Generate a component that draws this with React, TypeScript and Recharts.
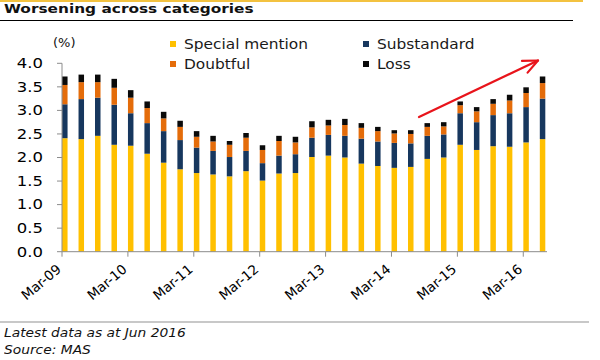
import { BarChart, Bar, XAxis, YAxis } from 'recharts';

const QUARTERS = [
  'Mar-09', 'Jun-09', 'Sep-09', 'Dec-09',
  'Mar-10', 'Jun-10', 'Sep-10', 'Dec-10',
  'Mar-11', 'Jun-11', 'Sep-11', 'Dec-11',
  'Mar-12', 'Jun-12', 'Sep-12', 'Dec-12',
  'Mar-13', 'Jun-13', 'Sep-13', 'Dec-13',
  'Mar-14', 'Jun-14', 'Sep-14', 'Dec-14',
  'Mar-15', 'Jun-15', 'Sep-15', 'Dec-15',
  'Mar-16', 'Jun-16',
];

const SPECIAL_MENTION = [2.41, 2.39, 2.46, 2.27, 2.25, 2.08, 1.89, 1.75, 1.67, 1.64, 1.6, 1.71, 1.51, 1.66, 1.67, 2.01, 2.04, 2.0, 1.87, 1.82, 1.78, 1.8, 1.97, 2.0, 2.27, 2.16, 2.24, 2.23, 2.32, 2.39];
const SUBSTANDARD = [0.72, 0.85, 0.81, 0.85, 0.69, 0.65, 0.67, 0.62, 0.54, 0.5, 0.41, 0.43, 0.37, 0.38, 0.4, 0.41, 0.44, 0.46, 0.53, 0.52, 0.53, 0.5, 0.49, 0.49, 0.67, 0.59, 0.66, 0.71, 0.75, 0.86];
const DOUBTFUL = [0.41, 0.36, 0.33, 0.36, 0.33, 0.32, 0.27, 0.28, 0.23, 0.2, 0.26, 0.28, 0.28, 0.31, 0.25, 0.22, 0.2, 0.23, 0.23, 0.22, 0.2, 0.2, 0.19, 0.17, 0.17, 0.23, 0.24, 0.27, 0.3, 0.33];
const LOSS = [0.18, 0.16, 0.16, 0.19, 0.16, 0.14, 0.14, 0.13, 0.12, 0.12, 0.08, 0.1, 0.1, 0.11, 0.12, 0.13, 0.12, 0.13, 0.1, 0.09, 0.07, 0.08, 0.08, 0.09, 0.08, 0.09, 0.1, 0.12, 0.12, 0.14];

const Y_TICKS = [0, 0.5, 1, 1.5, 2, 2.5, 3, 3.5, 4];

// date-style axis: year ticks sit a little before the March bar
const TICK_OFFSET = 0.2;
const X_TICKS = QUARTERS.map((_, i) => i).filter((i) => i % 4 === 0).map((i) => i - TICK_OFFSET);

const COLORS = {
  special: '#FFC000',
  sub: '#17375E',
  doubtful: '#E46C0A',
  loss: '#0A0A0A',
};

const FONT = '"DejaVu Sans", Verdana, sans-serif';
const AXIS_GREY = '#8C8C8C';

const chartData = QUARTERS.map((q, i) => ({
  idx: i,
  quarter: q,
  special: SPECIAL_MENTION[i],
  sub: SUBSTANDARD[i],
  doubtful: DOUBTFUL[i],
  loss: LOSS[i],
}));

const YTick = ({ x, y, payload }: any) => (
  <text
    x={x}
    y={y}
    dy="0.36em"
    textAnchor="end"
    fontSize={13.5}
    fontFamily={FONT}
    fill="#000"
    transform={`translate(${x} ${y}) scale(1.22 1) translate(${-x} ${-y})`}
  >
    {Number(payload.value).toFixed(1)}
  </text>
);

const XTick = ({ x, y, payload }: any) => {
  const label = QUARTERS[Math.round(payload.value + TICK_OFFSET)];
  return (
    <g transform={`translate(${x} ${y + 12})`}>
      <text textAnchor="end" fontSize={13.5} fontFamily={FONT} fill="#000" transform="rotate(-40)">
        {label}
      </text>
    </g>
  );
};

const legendItems = [
  { name: 'Special mention', color: COLORS.special, left: 170, top: 41 },
  { name: 'Substandard', color: COLORS.sub, left: 363, top: 41 },
  { name: 'Doubtful', color: COLORS.doubtful, left: 170, top: 61 },
  { name: 'Loss', color: COLORS.loss, left: 363, top: 61 },
];

const Arrow = () => {
  const x1 = 419;
  const y1 = 117;
  const x2 = 538;
  const y2 = 60.5;
  const ang = Math.atan2(y1 - y2, x1 - x2);
  const len = 16;
  const spread = (24 * Math.PI) / 180;
  const a1 = [x2 + len * Math.cos(ang + spread), y2 + len * Math.sin(ang + spread)];
  const a2 = [x2 + len * Math.cos(ang - spread), y2 + len * Math.sin(ang - spread)];
  return (
    <svg width={600} height={360} style={{ position: 'absolute', left: 0, top: 0, pointerEvents: 'none' }}>
      <line x1={x1} y1={y1} x2={x2} y2={y2} stroke="#E8141B" strokeWidth={2.2} strokeLinecap="round" />
      <polyline
        points={`${a1[0]},${a1[1]} ${x2},${y2} ${a2[0]},${a2[1]}`}
        fill="none"
        stroke="#E8141B"
        strokeWidth={2.2}
        strokeLinecap="round"
        strokeLinejoin="round"
      />
    </svg>
  );
};

const stretch = (sx: number) => ({ transform: `scaleX(${sx})`, transformOrigin: 'left center' });

export default function App() {
  return (
    <div
      style={{
        position: 'fixed',
        left: 0,
        top: 0,
        width: 600,
        height: 360,
        background: '#fff',
        fontFamily: FONT,
        color: '#111',
        overflow: 'hidden',
      }}
    >
      <div style={{ position: 'absolute', left: 0, top: 0, width: 583, height: 2, background: '#F3C240' }} />
      <div
        style={{
          position: 'absolute',
          left: 4,
          top: 1,
          fontSize: 13,
          lineHeight: '15px',
          fontWeight: 'bold',
          whiteSpace: 'nowrap',
          ...stretch(1.18),
        }}
      >
        Worsening across categories
      </div>
      <div style={{ position: 'absolute', left: 0, top: 20, width: 573, height: 1, background: '#000' }} />

      <div style={{ position: 'absolute', left: 0, top: 0 }}>
        <BarChart width={600} height={360} data={chartData} margin={{ top: 63.3, right: 53, bottom: 0, left: 0 }}>
          <XAxis
            type="number"
            dataKey="idx"
            domain={[-TICK_OFFSET, QUARTERS.length - 1 + 0.24]}
            ticks={X_TICKS}
            interval={0}
            axisLine={{ stroke: AXIS_GREY }}
            tickLine={{ stroke: AXIS_GREY }}
            tickSize={5}
            tick={<XTick />}
            height={108.3}
          />
          <YAxis
            type="number"
            domain={[0, 4]}
            ticks={Y_TICKS}
            interval={0}
            width={62}
            axisLine={{ stroke: AXIS_GREY }}
            tickLine={{ stroke: AXIS_GREY }}
            tickSize={5}
            tickMargin={14}
            tick={<YTick />}
          />
          <Bar dataKey="special" stackId="a" fill={COLORS.special} barSize={5.5} isAnimationActive={false} />
          <Bar dataKey="sub" stackId="a" fill={COLORS.sub} barSize={5.5} isAnimationActive={false} />
          <Bar dataKey="doubtful" stackId="a" fill={COLORS.doubtful} barSize={5.5} isAnimationActive={false} />
          <Bar dataKey="loss" stackId="a" fill={COLORS.loss} barSize={5.5} isAnimationActive={false} />
        </BarChart>
      </div>

      <div style={{ position: 'absolute', left: 53, top: 35, fontSize: 13, lineHeight: '16px' }}>(%)</div>

      {legendItems.map((item) => (
        <div key={item.name}>
          <div
            style={{
              position: 'absolute',
              left: item.left,
              top: item.top,
              width: 6,
              height: 6,
              background: item.color,
            }}
          />
          <div
            style={{
              position: 'absolute',
              left: item.left + 14,
              top: item.top - 5,
              fontSize: 13.5,
              lineHeight: '16px',
              whiteSpace: 'nowrap',
              color: '#1a1a1a',
              ...stretch(1.14),
            }}
          >
            {item.name}
          </div>
        </div>
      ))}

      <Arrow />

      <div style={{ position: 'absolute', left: 0, top: 321, width: 589, height: 2, background: '#C8C8C8' }} />
      <div
        style={{
          position: 'absolute',
          left: 4,
          top: 326,
          fontSize: 11.5,
          lineHeight: '14px',
          fontStyle: 'italic',
          whiteSpace: 'nowrap',
          ...stretch(1.2),
        }}
      >
        Latest data as at Jun 2016
      </div>
      <div
        style={{
          position: 'absolute',
          left: 4,
          top: 343,
          fontSize: 11.5,
          lineHeight: '14px',
          fontStyle: 'italic',
          whiteSpace: 'nowrap',
          ...stretch(1.2),
        }}
      >
        Source: MAS
      </div>
    </div>
  );
}
